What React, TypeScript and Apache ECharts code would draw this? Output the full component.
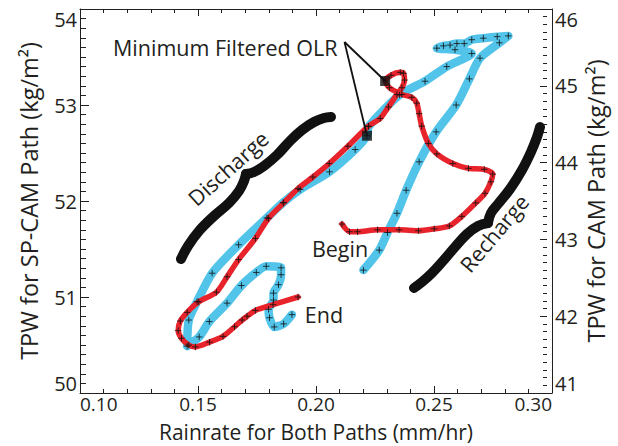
import React, { useEffect, useRef } from "react";
import * as echarts from "echarts";

// Rainrate (mm/hr) and TPW (kg/m2) along the SP-CAM path (left axis)
const spcamRain = [
  0.2110, 0.2142, 0.2176, 0.2261, 0.2352, 0.2434, 0.2501, 0.2565, 0.2618, 0.2677,
  0.2716, 0.2741, 0.2749, 0.2713, 0.2646, 0.2580, 0.2512, 0.2476, 0.2448, 0.2437,
  0.2427, 0.2406, 0.2364, 0.2311, 0.2293, 0.2318, 0.2357, 0.2371, 0.2375, 0.2364,
  0.2343, 0.2307, 0.2272, 0.2222, 0.2135, 0.2056, 0.1987, 0.1924, 0.1863, 0.1799,
  0.1743, 0.1672, 0.1623, 0.1578, 0.1503, 0.1454, 0.1425, 0.1416, 0.1430, 0.1461,
  0.1489, 0.1549, 0.1606, 0.1655, 0.1687, 0.1708, 0.1743, 0.1818, 0.1924,
];
const spcamTpw = [
  51.76, 51.68, 51.68, 51.70, 51.70, 51.69, 51.71, 51.74, 51.84, 51.98,
  52.08, 52.20, 52.28, 52.33, 52.34, 52.39, 52.49, 52.60, 52.78, 52.91,
  53.02, 53.08, 53.11, 53.18, 53.25, 53.31, 53.34, 53.33, 53.26, 53.18,
  53.11, 52.98, 52.86, 52.78, 52.57, 52.39, 52.25, 52.13, 51.98, 51.82,
  51.61, 51.39, 51.21, 51.05, 50.95, 50.84, 50.75, 50.65, 50.57, 50.50,
  50.48, 50.53, 50.59, 50.69, 50.76, 50.80, 50.86, 50.92, 51.00,
];

// Rainrate (mm/hr) and TPW (kg/m2) along the CAM path (right axis)
const camRain = [
  0.2201, 0.2268, 0.2303, 0.2343, 0.2382, 0.2437, 0.2509, 0.2594, 0.2650, 0.2695,
  0.2777, 0.2815, 0.2768, 0.2709, 0.2660, 0.2628, 0.2597, 0.2568, 0.2540, 0.2512,
  0.2589, 0.2660, 0.2554, 0.2462, 0.2354, 0.2223, 0.2216, 0.2166, 0.2057, 0.1933,
  0.1861, 0.1792, 0.1672, 0.1560, 0.1496, 0.1461, 0.1454, 0.1505, 0.1548, 0.1623,
  0.1684, 0.1747, 0.1789, 0.1852, 0.1852, 0.1841, 0.1820, 0.1820, 0.1799, 0.1803,
  0.1823, 0.1863, 0.1898,
];
const camTpw = [
  42.60, 42.86, 43.09, 43.34, 43.64, 44.01, 44.40, 44.75, 45.09, 45.36,
  45.56, 45.65, 45.64, 45.62, 45.60, 45.55, 45.55, 45.53, 45.52, 45.49,
  45.47, 45.42, 45.25, 45.06, 44.88, 44.47, 44.35, 44.17, 43.88, 43.65,
  43.48, 43.28, 42.93, 42.56, 42.19, 41.95, 41.61, 41.73, 41.93, 42.17,
  42.40, 42.57, 42.65, 42.63, 42.54, 42.41, 42.30, 42.21, 42.09, 41.98,
  41.86, 41.90, 42.02,
];

// Minimum filtered OLR points [rainrate, TPW]
const minOlrSpcam = [0.2293, 53.25];
const minOlrCam = [0.2216, 44.35];

// Axis ranges
const xRange = [0.1, 0.3];
const leftRange = [50, 54];
const rightRange = [41, 46];

const INK = "#231f20";
const RED = "#e8232b";
const BLUE = "#52c4ea";
const FONT = "'Open Sans'";
const PLUS = "path://M5,0L5,10M0,5L10,5";

export default function App() {
  const ref = useRef<HTMLDivElement>(null);

  useEffect(() => {
    document.body.style.margin = "0";
    const chart = echarts.init(ref.current!, undefined, { renderer: "svg" });
    const red = spcamRain.map((x, i) => [x, spcamTpw[i]]);
    const blue = camRain.map((x, i) => [x, camTpw[i]]);
    const labelStyle = { color: INK, fontFamily: FONT, fontSize: 20 };
    const xLabelStyle = { color: INK, fontFamily: FONT, fontSize: 19 };
    const xNameStyle = { color: INK, fontFamily: FONT, fontSize: 21 };
    const yNameStyle = { color: INK, fontFamily: FONT, fontSize: 23.5 };
    const line = { lineStyle: { color: INK, width: 1 } };

    chart.setOption({
      animation: false,
      backgroundColor: "#fff",
      grid: { left: 80, right: 66, top: 9, bottom: 53, outerBoundsMode: "none" },
      xAxis: [
        {
          type: "value", position: "bottom", min: xRange[0], max: xRange[1], interval: 0.05,
          axisLine: line,
          axisTick: { inside: true, length: 7, lineStyle: { color: INK } },
          minorTick: { show: true, splitNumber: 5, length: 4, lineStyle: { color: INK } },
          splitLine: { show: false },
          axisLabel: {
            ...xLabelStyle, margin: 1.5, formatter: (v: number) => v.toFixed(2),
            alignMinLabel: "left", alignMaxLabel: "right",
          },
          name: "Rainrate for Both Paths (mm/hr)", nameLocation: "middle", nameGap: 28.5,
          nameTextStyle: xNameStyle, nameMoveOverlap: false,
        },
        {
          type: "value", position: "top", min: xRange[0], max: xRange[1], interval: 0.05,
          axisLine: line,
          axisTick: { inside: true, length: 7, lineStyle: { color: INK } },
          minorTick: { show: true, splitNumber: 5, length: 4, lineStyle: { color: INK } },
          splitLine: { show: false },
          axisLabel: { show: false },
        },
      ],
      yAxis: [
        {
          type: "value", position: "left", min: leftRange[0], max: leftRange[1], interval: 1,
          axisLine: line,
          axisTick: { inside: true, length: 9, lineStyle: { color: INK } },
          minorTick: { show: true, splitNumber: 10, length: 6, lineStyle: { color: INK } },
          splitLine: { show: false },
          axisLabel: {
            ...labelStyle, margin: 3,
            verticalAlignMinLabel: "bottom", verticalAlignMaxLabel: "top",
          },
          name: "TPW for SP-CAM Path (kg/m²)", nameLocation: "middle", nameGap: 39,
          nameRotate: 90, nameTextStyle: yNameStyle, nameMoveOverlap: false,
        },
        {
          type: "value", position: "right", min: rightRange[0], max: rightRange[1], interval: 1,
          axisLine: line,
          axisTick: { show: false },
          splitLine: { show: false },
          axisLabel: {
            ...labelStyle, margin: 3,
            verticalAlignMinLabel: "bottom", verticalAlignMaxLabel: "top",
          },
          name: "TPW for CAM Path (kg/m²)", nameLocation: "middle", nameGap: 32,
          nameRotate: 90, nameTextStyle: yNameStyle, nameMoveOverlap: false,
        },
        {
          type: "value", position: "right", offset: -5, min: rightRange[0], max: rightRange[1],
          interval: 1,
          axisLine: { show: false },
          axisTick: { inside: true, length: 7, lineStyle: { color: INK } },
          minorTick: { show: true, splitNumber: 10, length: 4, lineStyle: { color: INK } },
          splitLine: { show: false },
          axisLabel: { show: false },
        },
      ],
      series: [
        {
          type: "line", xAxisIndex: 0, yAxisIndex: 1, data: blue, showSymbol: false,
          smooth: 0.25, lineStyle: { color: BLUE, width: 8.5, cap: "round", join: "round" }, z: 2,
        },
        {
          type: "line", xAxisIndex: 0, yAxisIndex: 0, data: red, showSymbol: false,
          smooth: 0.25, lineStyle: { color: RED, width: 5.5, cap: "round", join: "round" }, z: 3,
        },
        {
          type: "scatter", xAxisIndex: 0, yAxisIndex: 1, data: blue, symbol: PLUS, symbolSize: 6.5,
          itemStyle: { color: "rgba(0,0,0,0)", borderColor: "#111", borderWidth: 1 }, z: 4,
        },
        {
          type: "scatter", xAxisIndex: 0, yAxisIndex: 0, data: red, symbol: PLUS, symbolSize: 6.5,
          itemStyle: { color: "rgba(0,0,0,0)", borderColor: "#111", borderWidth: 1 }, z: 4,
        },
        {
          type: "scatter", xAxisIndex: 0, yAxisIndex: 0, data: [minOlrSpcam], symbol: "rect",
          symbolSize: 10, itemStyle: { color: "#111" }, z: 6,
        },
        {
          type: "scatter", xAxisIndex: 0, yAxisIndex: 1, data: [minOlrCam], symbol: "rect",
          symbolSize: 10, itemStyle: { color: "#111" }, z: 6,
        },
      ],
    });

    const pR = chart.convertToPixel({ xAxisIndex: 0, yAxisIndex: 0 }, minOlrSpcam) as number[];
    const pB = chart.convertToPixel({ xAxisIndex: 0, yAxisIndex: 1 }, minOlrCam) as number[];
    const anchor = [344.5, 42];
    const txt = (text: string, x: number, y: number, rot = 0, align = "center") => ({
      type: "text", x, y, rotation: (rot * Math.PI) / 180, z: 10,
      style: { text, fill: INK, font: `21.5px ${FONT}`, align, verticalAlign: "middle" },
    });
    const brace = (pts: number[][]) => ({
      type: "polyline", z: 5,
      shape: { points: pts, smooth: 0.4 },
      style: { stroke: "#111", lineWidth: 10, fill: "none", lineCap: "round", lineJoin: "round" },
    });

    chart.setOption({
      graphic: [
        txt("Minimum Filtered OLR", 113, 47, 0, "left"),
        {
          type: "line", z: 7, shape: { x1: anchor[0], y1: anchor[1], x2: pR[0], y2: pR[1] },
          style: { stroke: "#111", lineWidth: 1.8 },
        },
        {
          type: "line", z: 7, shape: { x1: anchor[0], y1: anchor[1], x2: pB[0], y2: pB[1] },
          style: { stroke: "#111", lineWidth: 1.8 },
        },
        brace([[181, 259], [188, 246], [199, 231], [214, 216], [229, 203], [239, 191], [244, 181], [246, 174]]),
        brace([[246, 174], [254, 172], [264, 166], [277, 155], [290, 141], [302, 130], [314, 122], [324, 118], [331, 117]]),
        brace([[540, 127], [537, 137], [531, 152], [522, 170], [510, 189], [498, 204], [491, 213], [488, 223]]),
        brace([[488, 223], [478, 226], [467, 234], [455, 247], [443, 261], [432, 273], [422, 282], [414, 288]]),
        txt("Discharge", 228, 168, 42),
        txt("Recharge", 494, 233, 50),
        txt("Begin", 340, 248),
        txt("End", 324, 314),
      ],
    });

    return () => chart.dispose();
  }, []);

  return <div ref={ref} style={{ width: 618, height: 446 }} />;
}
